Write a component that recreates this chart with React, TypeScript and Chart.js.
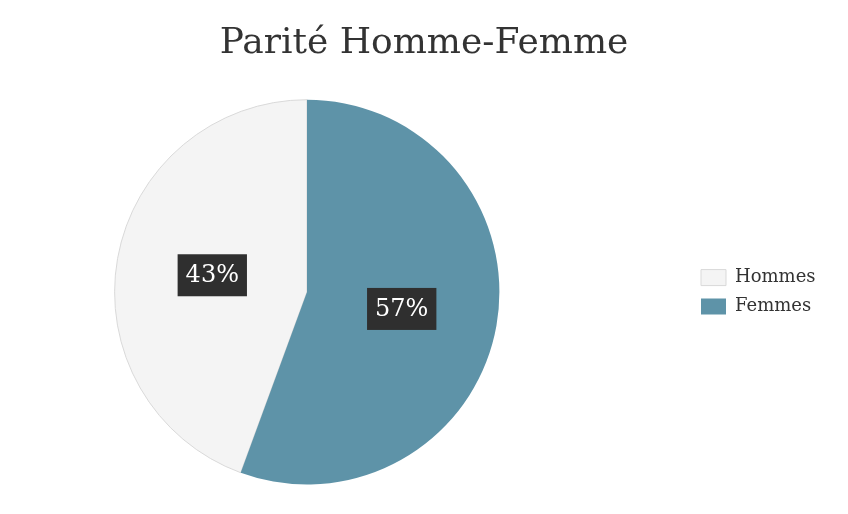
import React, { useEffect, useRef } from "react";
import { Chart, registerables } from "chart.js";

Chart.register(...registerables);

const labels = ["Hommes", "Femmes"];
// slice sizes as drawn in the picture, and the percentages printed on them
const shares = [44.4, 55.6];
const pctLabels = ["43%", "57%"];
const colors = ["#f4f4f4", "#5e93a8"];
const borders = ["#d9d9d9", "#5e93a8"];

const SERIF = "'DejaVu Serif', serif";

// dark percentage boxes in the middle of each slice
const sliceLabels = {
  id: "sliceLabels",
  afterDatasetsDraw(chart: any) {
    const ctx = chart.ctx;
    const meta = chart.getDatasetMeta(0);
    ctx.save();
    ctx.font = `24px ${SERIF}`;
    ctx.textAlign = "center";
    ctx.textBaseline = "middle";
    meta.data.forEach((arc: any, i: number) => {
      const { x, y } = arc.tooltipPosition();
      const text = pctLabels[i];
      const w = ctx.measureText(text).width + 16;
      const h = 42;
      ctx.fillStyle = "#2f2f2f";
      ctx.fillRect(x - w / 2, y - h / 2, w, h);
      ctx.fillStyle = "#ffffff";
      ctx.fillText(text, x, y + 1);
    });
    ctx.restore();
  },
};

// wide legend column on the right, pie kept in the left part
const legendSpace = {
  id: "legendSpace",
  beforeInit(chart: any) {
    const fit = chart.legend.fit;
    chart.legend.fit = function () {
      fit.call(this);
      this.width = 158;
    };
  },
  afterLayout(chart: any) {
    const area = chart.chartArea;
    area.right = area.left + 614;
    area.width = area.right - area.left;
  },
};

const App: React.FC = () => {
  const canvasRef = useRef<HTMLCanvasElement>(null);
  const chartRef = useRef<Chart>();

  useEffect(() => {
    document.body.style.margin = "0";
    const ctx = canvasRef.current?.getContext("2d");
    if (!ctx) return;

    const total = shares.reduce((a, b) => a + b, 0);

    chartRef.current = new Chart(ctx, {
      type: "pie",
      data: {
        labels: labels,
        datasets: [
          {
            data: shares,
            backgroundColor: colors,
            borderColor: borders,
            borderWidth: [1, 0],
          },
        ],
      },
      options: {
        animation: false,
        responsive: true,
        maintainAspectRatio: false,
        rotation: (shares[1] / total) * 360,
        layout: { padding: { left: 0, right: 0, top: 0, bottom: 29 } },
        plugins: {
          title: {
            display: true,
            text: "Parité Homme-Femme",
            color: "#333333",
            font: { family: SERIF, size: 36, weight: "normal" },
            padding: { top: 22, bottom: 34 },
          },
          legend: {
            position: "right",
            fullSize: false,
            labels: {
              boxWidth: 25,
              boxHeight: 16,
              padding: 11,
              color: "#333333",
              font: { family: SERIF, size: 18 },
            },
          },
          tooltip: { enabled: false },
        },
      },
      plugins: [legendSpace, sliceLabels],
    });

    return () => {
      chartRef.current?.destroy();
    };
  }, []);

  return (
    <div style={{ position: "relative", width: 848, height: 514 }}>
      <canvas ref={canvasRef}></canvas>
    </div>
  );
};

export default App;
